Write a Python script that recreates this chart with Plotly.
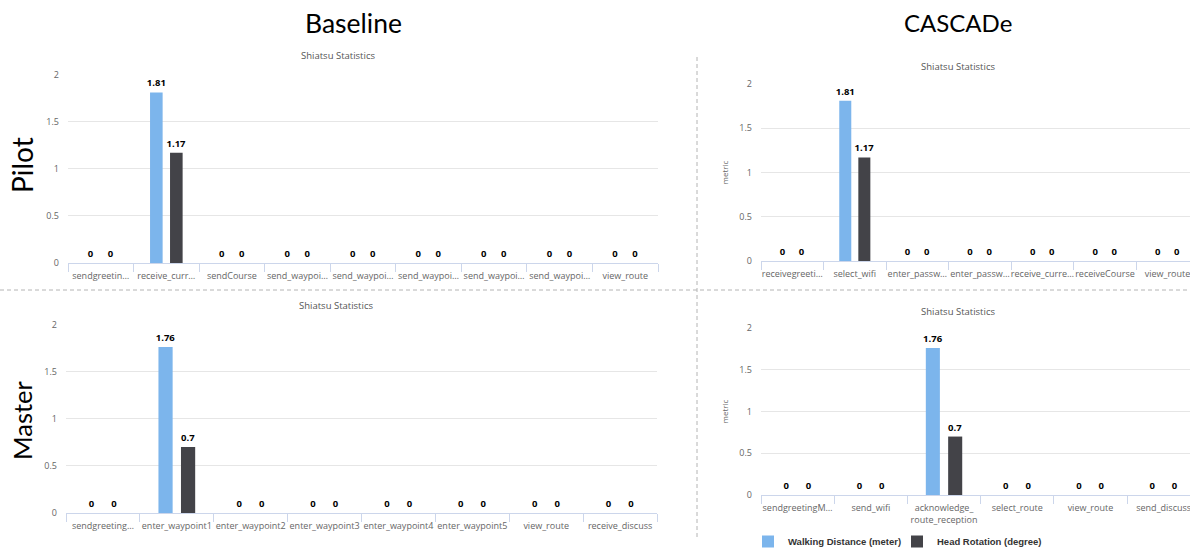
import plotly.graph_objects as go

# ---------------- data ----------------
bp_categories = ["sendgreetin…", "receive_curr…", "sendCourse", "send_waypoi…", "send_waypoi…",
                 "send_waypoi…", "send_waypoi…", "send_waypoi…", "view_route"]
bp_walking = [0, 1.81, 0, 0, 0, 0, 0, 0, 0]
bp_head = [0, 1.17, 0, 0, 0, 0, 0, 0, 0]

bm_categories = ["sendgreeting…", "enter_waypoint1", "enter_waypoint2", "enter_waypoint3",
                 "enter_waypoint4", "enter_waypoint5", "view_route", "receive_discuss"]
bm_walking = [0, 1.76, 0, 0, 0, 0, 0, 0]
bm_head = [0, 0.7, 0, 0, 0, 0, 0, 0]

cp_categories = ["receivegreeti…", "select_wifi", "enter_passw…", "enter_passw…",
                 "receive_curre…", "receiveCourse", "view_route"]
cp_walking = [0, 1.81, 0, 0, 0, 0, 0]
cp_head = [0, 1.17, 0, 0, 0, 0, 0]

cm_categories = ["sendgreetingM…", "send_wifi", "acknowledge_<br>route_reception",
                 "select_route", "view_route", "send_discuss"]
cm_walking = [0, 0, 1.76, 0, 0, 0]
cm_head = [0, 0, 0.7, 0, 0, 0]

series_names = ["Walking Distance (meter)", "Head Rotation (degree)"]
y_ticks = [0, 0.5, 1, 1.5, 2]
col_titles = ["Baseline", "CASCADe"]
row_titles = ["Pilot", "Master"]
chart_title = "Shiatsu Statistics"

BLUE = "#7cb5ec"
DARK = "#434348"
W, H = 1190, 548


def unique_labels(cats):
    """Make repeated (truncated) labels distinct so each gets its own category slot."""
    seen = {}
    out = []
    for c in cats:
        k = seen.get(c, 0)
        out.append(c + "\u200b" * k)
        seen[c] = k + 1
    return out


panels = [
    # (cats, walking, head, axis suffix, x px range, y px range(top,bottom), x range end, metric, title x, title y)
    (bp_categories, bp_walking, bp_head, "", (68, 658), (74.5, 263), None, False, 338, 56),
    (bm_categories, bm_walking, bm_head, "2", (66, 657), (324.5, 513), None, False, 336, 305),
    (cp_categories, cp_walking, cp_head, "3", (761, 1190), (84, 261), 6.36, True, 958, 66),
    (cm_categories, cm_walking, cm_head, "4", (761, 1190), (328, 495), 5.36, True, 958, 311),
]

fig = go.Figure()
for i, (cats, wv, hv, sfx, (x0, x1), (yt, yb), xend, metric, tx, ty) in enumerate(panels):
    xa = "x" + sfx
    ya = "y" + sfx
    ucats = unique_labels(cats)
    for name, vals, col in [(series_names[0], wv, BLUE), (series_names[1], hv, DARK)]:
        fig.add_trace(go.Bar(
            x=ucats, y=vals, name="<b>" + name + "</b>", marker_color=col,
            marker_line_width=0,
            xaxis=xa, yaxis=ya, showlegend=(i == 3),
            texttemplate="<b>%{y}</b>", textposition="outside",
            textfont=dict(size=9.5, color="#000000", family="Open Sans"),
            constraintext="none", cliponaxis=False,
        ))
    xkey = "xaxis" + sfx
    ykey = "yaxis" + sfx
    n = len(cats)
    fig.layout[xkey] = dict(
        domain=[x0 / W, x1 / W], anchor=ya, type="category",
        range=[-0.5, xend if xend is not None else n - 0.5],
        showline=True, linecolor="#ccd6eb", linewidth=1,
        ticks="outside", tickson="boundaries", ticklen=8, tickcolor="#ccd6eb",
        ticklabelstandoff=4,
        tickfont=dict(size=9, color="#666666", family="Open Sans"),
        tickangle=0, showgrid=False, automargin=False,
    )
    fig.layout[ykey] = dict(
        domain=[1 - yb / H, 1 - yt / H], anchor=xa, range=[0, 2],
        tickvals=y_ticks, ticktext=["0", "0.5", "1", "1.5", "2"],
        showgrid=True, gridcolor="#e6e6e6", gridwidth=1,
        zeroline=False, showline=False, ticks="",
        ticklabelstandoff=8,
        tickfont=dict(size=9, color="#666666", family="Open Sans"),
        automargin=False,
        title=dict(text="metric" if metric else "",
                   font=dict(size=8, color="#666666", family="Open Sans"),
                   standoff=9),
    )
    # chart title
    fig.add_annotation(
        x=tx / W, y=1 - ty / H, xref="paper", yref="paper",
        xanchor="center", yanchor="middle",
        text=chart_title, showarrow=False,
        font=dict(size=9.5, color="#555555", family="Open Sans"),
    )

# column and row headers
for txt, xpx, fs in zip(col_titles, [353, 958], [26.5, 24]):
    fig.add_annotation(x=xpx / W, y=1 - 23 / H, xref="paper", yref="paper", text=txt,
                       xanchor="center", yanchor="middle",
                       showarrow=False, font=dict(size=fs, color="#000000", family="Lato"))
for txt, ypx, fs in zip(row_titles, [165, 420], [28, 25.5]):
    fig.add_annotation(x=22 / W, y=1 - ypx / H, xref="paper", yref="paper", text=txt,
                       xanchor="center", yanchor="middle",
                       showarrow=False, textangle=-90,
                       font=dict(size=fs, color="#000000", family="Lato"))

# dashed dividers
fig.add_shape(type="line", xref="paper", yref="paper", x0=697 / W, x1=697 / W,
              y0=1 - 57 / H, y1=1 - 538 / H, line=dict(color="#b4b4b4", width=1, dash="4px,3px"))
fig.add_shape(type="line", xref="paper", yref="paper", x0=0, x1=1,
              y0=1 - 290 / H, y1=1 - 290 / H, line=dict(color="#b4b4b4", width=1, dash="4px,3px"))

fig.update_layout(
    width=W, height=H, margin=dict(l=0, r=0, t=0, b=0, autoexpand=False),
    paper_bgcolor="white", plot_bgcolor="white",
    barmode="group", bargap=0.39, bargroupgap=0.37,
    legend=dict(orientation="h", x=748 / W, y=1 - 527 / H, xanchor="left", yanchor="top",
                font=dict(size=9.5, color="#333333", family="Liberation Sans"),
                entrywidth=104, entrywidthmode="pixels",
                itemsizing="constant", bgcolor="rgba(0,0,0,0)", traceorder="normal"),
    showlegend=True,
)

fig.write_html("out.html", config={"displayModeBar": False},
               post_script="document.body.style.margin='0';")
